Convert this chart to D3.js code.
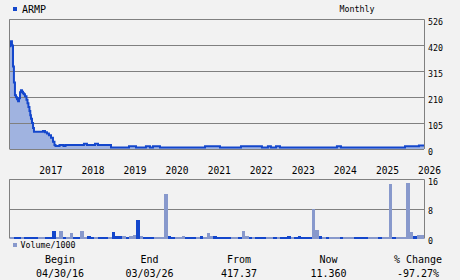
<!DOCTYPE html>
<html>
<head>
<meta charset="utf-8">
<script src="https://cdn.jsdelivr.net/npm/d3@7"></script>
<style>
	html, body { margin: 0; padding: 0; background: #f2f2f2; }
	svg { display: block; }
	text { font-family: "DejaVu Sans Mono", "Liberation Mono", monospace; fill: #000; }
</style>
</head>
<body>
<svg id="chart" width="460" height="280"></svg>
<script>
// Data (ARMP, monthly)
const symbol = "ARMP"
const period = "Monthly"
const startDate = "2016-04-30"
const endDate = "2026-03-03"

// price path: each point holds until the next one
const priceDates = [
	"2016-04-30", "2016-05-03", "2016-05-09", "2016-05-17", "2016-05-26", "2016-06-03",
	"2016-06-12", "2016-06-21", "2016-06-30", "2016-07-09", "2016-07-17", "2016-07-26",
	"2016-08-03", "2016-08-12", "2016-08-21", "2016-08-29", "2016-09-07", "2016-09-20",
	"2016-09-29", "2016-10-07", "2016-10-16", "2016-10-23", "2016-10-29", "2016-11-07",
	"2016-11-16", "2016-11-24", "2017-02-10", "2017-02-28", "2017-03-17", "2017-04-03",
	"2017-04-21", "2017-05-08", "2017-05-21", "2017-05-30", "2017-07-04", "2017-08-07",
	"2017-08-25", "2018-02-01", "2018-02-27", "2018-05-08", "2018-06-03", "2018-09-24",
	"2019-02-27", "2019-04-29", "2019-07-24", "2019-08-28", "2019-09-23", "2019-11-23",
	"2020-12-18", "2021-04-27", "2021-10-26", "2022-04-26", "2022-06-17", "2022-07-13",
	"2022-08-26", "2022-09-30", "2024-02-06", "2024-03-12", "2025-09-19", "2026-01-18",
	"2026-03-03",
]
const priceValues = [
	417, 431, 437, 420, 335, 270,
	218, 210, 202, 194, 206, 230,
	238, 232, 226, 222, 214, 200,
	186, 170, 154, 137, 123, 105,
	85, 70, 73, 68, 63, 56,
	46, 29, 16, 12, 16, 12,
	16, 21, 16, 21, 16, 6,
	11, 6, 11, 6, 11, 6,
	11, 6, 11, 6, 11, 6,
	11, 6, 11, 6, 11, 14,
	14,
]

// monthly volume (thousands), May 2016 .. Mar 2026
const volumeValues = [
	0.5, 0.5, 0.5, 0.5, 0.5, 0.5, 0.5, 0.5, 0.5, 0.5, 0.5, 0.5,
	2.1, 0.5, 2.1, 0.5, 0.5, 1.6, 0.5, 0.4, 2.1, 0.5, 0.6, 0.5,
	0.5, 0.5, 0.5, 0.5, 0.5, 1.8, 0.6, 0.6, 0.6, 0.5, 0.8, 1.0,
	5.1, 0.8, 0.5, 0.4, 0.5, 0.5, 0.5, 0.5, 12.1, 0.8, 0.5, 0.5,
	0.5, 0.6, 0.5, 0.4, 0.4, 0.5, 0.6, 0.5, 1.6, 0.8, 0.6, 0.5,
	0.5, 0.5, 0.5, 0.5, 0.5, 0.5, 2.1, 0.6, 0.5, 0.5, 0.5, 0.5,
	0.5, 0.5, 0.5, 0.5, 0.5, 0.5, 0.5, 0.6, 0.5, 0.5, 0.6, 0.5,
	0.5, 0.5, 8.1, 2.3, 0.6, 0.5, 0.4, 0.5, 0.5, 0.5, 0.5, 0.5,
	0.4, 0.4, 0.5, 0.5, 0.5, 0.5, 0.5, 0.5, 0.4, 0.5, 0.5, 0.5,
	14.7, 0.5, 0.5, 0.4, 0.4, 15.0, 1.8, 0.8, 1.0, 1.0, 1.0,
]
// 1 = light bar, 0 = dark bar
const volumeUp = [
	1, 0, 0, 1, 0, 0, 0, 0, 1, 1, 0, 0,
	0, 1, 1, 0, 1, 1, 0, 0, 1, 1, 0, 0,
	1, 0, 0, 0, 1, 0, 0, 0, 1, 0, 1, 1,
	0, 1, 0, 0, 0, 1, 1, 1, 1, 0, 0, 1,
	1, 1, 0, 0, 0, 1, 0, 1, 1, 1, 0, 0,
	0, 0, 0, 1, 1, 0, 1, 1, 0, 1, 0, 0,
	0, 1, 1, 0, 1, 0, 0, 0, 1, 0, 0, 0,
	0, 0, 1, 1, 0, 1, 0, 1, 1, 1, 0, 1,
	1, 1, 0, 0, 0, 0, 1, 1, 1, 0, 1, 1,
	1, 0, 1, 1, 1, 1, 1, 0, 1, 1, 1,
]

const priceTicks = [0, 105, 210, 315, 420, 526]
const volumeTicks = [0, 8, 16]
const summaryLabels = ["Begin", "End", "From", "Now", "% Change"]
const summaryValues = ["04/30/16", "03/03/26", "417.37", "11.360", "-97.27%"]

const colours = {
	grid: "#808080",
	line: "#1447cc",
	area: "#a0b3e0",
	volLight: "#8899cc",
	volDark: "#1447cc",
}

const parse = d3.timeParse("%Y-%m-%d")
const svg = d3.select("#chart")

const left = 9.5, right = 424
const x = d3.scaleTime()
	.domain([parse(startDate), parse(endDate)])
	.range([10, right])
const y = d3.scaleLinear()
	.domain([0, 526])
	.range([149, 19.3])
const yVol = d3.scaleLinear()
	.domain([0, 16])
	.range([238.5, 179.3])

// Header
svg.append("rect")
	.attr("x", 13).attr("y", 7)
	.attr("width", 4).attr("height", 4)
	.attr("fill", colours.line)
svg.append("text")
	.attr("x", 22).attr("y", 12.5)
	.style("font-size", "10px")
	.text(symbol)
svg.append("text")
	.attr("x", 357).attr("y", 12)
	.attr("text-anchor", "middle")
	.style("font-size", "8.3px")
	.text(period)

// Price panel
let price = svg.append("g").attr("class", "price")

let prices = priceDates.map((d, i) => ({ date: parse(d), value: priceValues[i] }))

price.append("path")
	.datum(prices)
	.attr("fill", colours.area)
	.attr("d", d3.area()
		.curve(d3.curveStepAfter)
		.x(d => x(d.date))
		.y0(y(0))
		.y1(d => y(d.value)))

price.append("g")
	.attr("class", "grid")
	.selectAll("line")
	.data(priceTicks)
	.join("line")
	.attr("x1", left).attr("x2", right)
	.attr("y1", d => Math.round(y(d)) + 0.5)
	.attr("y2", d => Math.round(y(d)) + 0.5)
	.attr("stroke", colours.grid)

price.append("path")
	.datum(prices)
	.attr("fill", "none")
	.attr("stroke", colours.line)
	.attr("stroke-width", 2)
	.attr("d", d3.line()
		.curve(d3.curveStepAfter)
		.x(d => x(d.date))
		.y(d => y(d.value)))

price.append("line")
	.attr("x1", left).attr("x2", left)
	.attr("y1", y(526)).attr("y2", y(0))
	.attr("stroke", colours.grid)
price.append("line")
	.attr("x1", right + 0.5).attr("x2", right + 0.5)
	.attr("y1", y(526)).attr("y2", y(0))
	.attr("stroke", colours.grid)

let priceAxis = price.append("g")
	.attr("transform", `translate(${right + 3}, 0)`)
	.call(d3.axisRight(y).tickValues(priceTicks).tickSize(0).tickPadding(1))
priceAxis.select(".domain").remove()
priceAxis.selectAll("text")
	.attr("dy", 5)
	.style("font-size", "8.3px")
	.style("font-family", "DejaVu Sans Mono")

// Year labels sit just right of 1 January
let years = svg.append("g")
	.attr("transform", `translate(0, ${y(0)})`)
	.call(d3.axisBottom(x).ticks(d3.timeYear).tickFormat(d3.timeFormat("%Y")).tickSize(0))
years.select(".domain").remove()
years.selectAll("text")
	.attr("text-anchor", "start")
	.attr("x", 0.5)
	.attr("y", 25)
	.attr("dy", 0)
	.style("font-size", "9.6px")
	.style("font-family", "DejaVu Sans Mono")

// Volume panel
let volume = svg.append("g").attr("class", "volume")
let months = d3.timeMonth.range(parse("2016-05-01"), parse("2026-04-01"))

volume.append("g")
	.attr("class", "grid")
	.selectAll("line")
	.data(volumeTicks.filter(d => d > 0))
	.join("line")
	.attr("x1", left).attr("x2", right)
	.attr("y1", d => Math.round(yVol(d)) + 0.5)
	.attr("y2", d => Math.round(yVol(d)) + 0.5)
	.attr("stroke", colours.grid)

volume.append("g")
	.selectAll("rect")
	.data(volumeValues)
	.join("rect")
	.attr("x", (d, i) => x(months[i]))
	.attr("width", (d, i) => Math.min(x(d3.timeMonth.offset(months[i], 1)), right) - x(months[i]))
	.attr("y", d => yVol(d))
	.attr("height", d => yVol(0) - yVol(d))
	.attr("fill", (d, i) => volumeUp[i] ? colours.volLight : colours.volDark)
	.attr("shape-rendering", "crispEdges")

volume.append("line")
	.attr("x1", left).attr("x2", left)
	.attr("y1", yVol(16)).attr("y2", yVol(0))
	.attr("stroke", colours.grid)
volume.append("line")
	.attr("x1", right + 0.5).attr("x2", right + 0.5)
	.attr("y1", yVol(16)).attr("y2", yVol(0))
	.attr("stroke", colours.grid)

let volAxis = volume.append("g")
	.attr("transform", `translate(${right + 3}, 0)`)
	.call(d3.axisRight(yVol).tickValues(volumeTicks).tickSize(0).tickPadding(1))
volAxis.select(".domain").remove()
volAxis.selectAll("text")
	.attr("dy", 5)
	.style("font-size", "8.3px")
	.style("font-family", "DejaVu Sans Mono")

svg.append("rect")
	.attr("x", 13).attr("y", 243)
	.attr("width", 4).attr("height", 4)
	.attr("fill", colours.volLight)
svg.append("text")
	.attr("x", 20.5).attr("y", 247.5)
	.style("font-size", "8.3px")
	.text("Volume/1000")

// Summary row
const summaryX = d3.scalePoint()
	.domain(summaryLabels)
	.range([60, 418])

let summary = svg.append("g")
	.selectAll("g")
	.data(summaryLabels)
	.join("g")
	.attr("transform", d => `translate(${summaryX(d)}, 0)`)
summary.append("text")
	.attr("y", 263)
	.attr("text-anchor", "middle")
	.style("font-size", "10px")
	.text(d => d)
summary.append("text")
	.attr("y", 276.5)
	.attr("text-anchor", "middle")
	.style("font-size", "10px")
	.text((d, i) => summaryValues[i])
</script>
</body>
</html>
